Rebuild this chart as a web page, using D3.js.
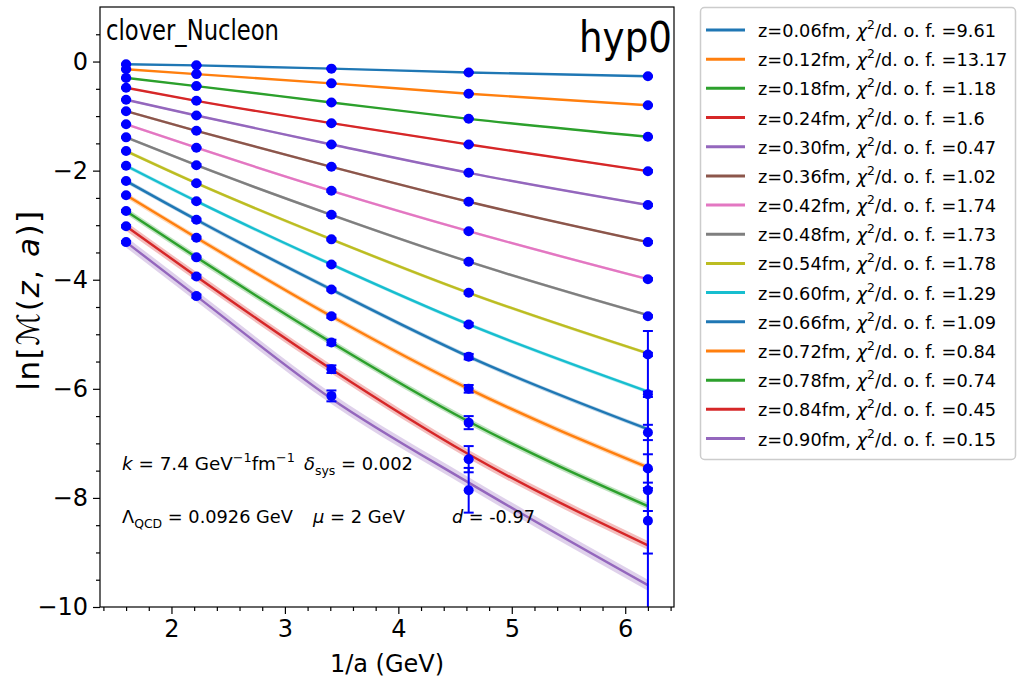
<!DOCTYPE html>
<html>
<head>
<meta charset="utf-8">
<script src="https://cdn.jsdelivr.net/npm/d3@7"></script>
<style>
    body {
        margin: 0;
        background: #fff;
        font-family: 'DejaVu Sans', sans-serif;
    }
    .axis text {
        font-family: 'DejaVu Sans', sans-serif;
        font-size: 24px;
        fill: #000;
    }
    .axis path, .axis line {
        stroke: #000;
        stroke-width: 1.2px;
    }
</style>
</head>
<body>
<svg id="chart" width="1017" height="680"></svg>
<script>
    // lattice spacings, 1/a in GeV
    const invA = [1.60, 2.22, 3.41, 4.62, 6.20];

    const zLabels = ['0.06', '0.12', '0.18', '0.24', '0.30', '0.36', '0.42', '0.48',
                     '0.54', '0.60', '0.66', '0.72', '0.78', '0.84', '0.90'];
    const chi2Labels = ['9.61', '13.17', '1.18', '1.6', '0.47', '1.02', '1.74', '1.73',
                        '1.78', '1.29', '1.09', '0.84', '0.74', '0.45', '0.15'];

    // fitted curve, one row per z, one value per 1/a
    const fitVals = [
        [-0.05, -0.07, -0.13, -0.20, -0.27],
        [-0.14, -0.23, -0.40, -0.59, -0.80],
        [-0.30, -0.45, -0.75, -1.05, -1.38],
        [-0.48, -0.72, -1.13, -1.52, -2.01],
        [-0.70, -0.99, -1.52, -2.04, -2.63],
        [-0.91, -1.27, -1.93, -2.57, -3.31],
        [-1.15, -1.58, -2.37, -3.11, -3.99],
        [-1.39, -1.90, -2.81, -3.67, -4.65],
        [-1.64, -2.23, -3.26, -4.24, -5.35],
        [-1.91, -2.56, -3.72, -4.82, -6.05],
        [-2.19, -2.90, -4.18, -5.41, -6.74],
        [-2.45, -3.23, -4.67, -6.00, -7.44],
        [-2.74, -3.59, -5.15, -6.60, -8.15],
        [-3.02, -3.94, -5.64, -7.20, -8.87],
        [-3.31, -4.30, -6.18, -7.72, -9.60]
    ];
    // half width of the fit band
    const bandHalf = [0.01, 0.01, 0.012, 0.015, 0.018, 0.02, 0.022, 0.025,
                      0.03, 0.035, 0.04, 0.05, 0.06, 0.08, 0.10];

    // lattice data
    const pointVals = [
        [-0.05, -0.07, -0.13, -0.20, -0.27],
        [-0.14, -0.23, -0.40, -0.59, -0.80],
        [-0.30, -0.45, -0.75, -1.05, -1.38],
        [-0.48, -0.72, -1.13, -1.52, -2.01],
        [-0.70, -0.99, -1.52, -2.04, -2.63],
        [-0.91, -1.27, -1.93, -2.57, -3.31],
        [-1.15, -1.58, -2.37, -3.11, -3.99],
        [-1.39, -1.90, -2.81, -3.67, -4.67],
        [-1.64, -2.23, -3.26, -4.24, -5.37],
        [-1.91, -2.56, -3.72, -4.82, -6.10],
        [-2.19, -2.90, -4.18, -5.41, -6.80],
        [-2.45, -3.23, -4.67, -6.00, -7.46],
        [-2.74, -3.59, -5.15, -6.62, -7.86],
        [-3.02, -3.94, -5.64, -7.29, -8.42],
        [-3.31, -4.30, -6.13, -7.86, -10.60]
    ];
    const pointErrs = [
        [0.01, 0.01, 0.01, 0.01, 0.01],
        [0.01, 0.01, 0.01, 0.01, 0.01],
        [0.01, 0.01, 0.01, 0.01, 0.01],
        [0.01, 0.01, 0.01, 0.01, 0.02],
        [0.01, 0.01, 0.01, 0.01, 0.02],
        [0.01, 0.01, 0.01, 0.02, 0.02],
        [0.01, 0.01, 0.02, 0.02, 0.02],
        [0.01, 0.02, 0.02, 0.02, 0.02],
        [0.01, 0.02, 0.02, 0.02, 0.03],
        [0.01, 0.02, 0.02, 0.03, 0.05],
        [0.01, 0.02, 0.02, 0.05, 0.14],
        [0.01, 0.02, 0.03, 0.07, 0.26],
        [0.02, 0.02, 0.05, 0.12, 0.38],
        [0.02, 0.03, 0.07, 0.24, 0.60],
        [0.02, 0.03, 0.10, 0.41, 5.66]
    ];

    const colors = ['#1f77b4', '#ff7f0e', '#2ca02c', '#d62728', '#9467bd', '#8c564b',
                    '#e377c2', '#7f7f7f', '#bcbd22', '#17becf'];

    const plot = {left: 100, right: 674, top: 7, bottom: 607};

    const svg = d3.select('#chart');

    const x = d3.scaleLinear().domain([1.37, 6.43]).range([plot.left, plot.right]);
    const y = d3.scaleLinear().domain([-10, 1]).range([plot.bottom, plot.top]);

    // squeeze a plain text to a given width (the reference fonts are narrower)
    function fitWidth(sel, w) {
        sel.attr('textLength', w).attr('lengthAdjust', 'spacingAndGlyphs');
    }
    // for texts with tspans: pick the font size that gives the wanted width
    function sizeToWidth(sel, w) {
        const fs = +sel.attr('font-size');
        const n = sel.node().getComputedTextLength();
        sel.attr('font-size', (fs * w / n).toFixed(2));
    }

    svg.append('defs').append('clipPath').attr('id', 'clip')
        .append('rect')
        .attr('x', plot.left).attr('y', plot.top)
        .attr('width', plot.right - plot.left)
        .attr('height', plot.bottom - plot.top);

    const data = svg.append('g').attr('clip-path', 'url(#clip)');

    // bands + fit curves
    const area = d3.area()
        .x((d, i) => x(invA[i]))
        .y0(d => y(d.v - d.b))
        .y1(d => y(d.v + d.b))
        .curve(d3.curveMonotoneX);
    const line = d3.line()
        .x((d, i) => x(invA[i]))
        .y(d => y(d))
        .curve(d3.curveMonotoneX);

    fitVals.forEach((row, k) => {
        const c = colors[k % colors.length];
        data.append('path')
            .attr('d', area(row.map(v => ({v: v, b: bandHalf[k]}))))
            .attr('fill', c)
            .attr('fill-opacity', 0.3);
        data.append('path')
            .attr('d', line(row))
            .attr('fill', 'none')
            .attr('stroke', c)
            .attr('stroke-width', 2.4);
    });

    // data points with error bars
    const pts = [];
    pointVals.forEach((row, k) => row.forEach((v, i) => {
        pts.push({x: invA[i], v: v, e: pointErrs[k][i]});
    }));

    const pg = data.append('g').attr('fill', '#0000ff').attr('stroke', '#0000ff');
    pg.selectAll('line.bar').data(pts).join('line')
        .attr('class', 'bar')
        .attr('x1', d => x(d.x)).attr('x2', d => x(d.x))
        .attr('y1', d => y(d.v - d.e)).attr('y2', d => y(d.v + d.e))
        .attr('stroke-width', 2);
    pg.selectAll('line.caplo').data(pts).join('line')
        .attr('class', 'caplo')
        .attr('x1', d => x(d.x) - 5).attr('x2', d => x(d.x) + 5)
        .attr('y1', d => y(d.v - d.e)).attr('y2', d => y(d.v - d.e))
        .attr('stroke-width', 2);
    pg.selectAll('line.caphi').data(pts).join('line')
        .attr('class', 'caphi')
        .attr('x1', d => x(d.x) - 5).attr('x2', d => x(d.x) + 5)
        .attr('y1', d => y(d.v + d.e)).attr('y2', d => y(d.v + d.e))
        .attr('stroke-width', 2);
    pg.selectAll('circle').data(pts).join('circle')
        .attr('cx', d => x(d.x))
        .attr('cy', d => y(d.v))
        .attr('r', 5)
        .attr('stroke', 'none');

    // axes
    const xMajor = [2, 3, 4, 5, 6];
    const xMinor = d3.range(1.4, 6.41, 0.2).filter(v => Math.abs(v - Math.round(v)) > 0.01);
    const yMajor = [-10, -8, -6, -4, -2, 0];
    const yMinor = d3.range(-9.5, 0.6, 0.5).filter(v => v % 2 !== 0);

    svg.append('g').attr('class', 'axis')
        .attr('transform', `translate(0,${plot.bottom})`)
        .call(d3.axisBottom(x).tickValues(xMajor).tickSize(7).tickPadding(6).tickFormat(d3.format('d')))
        .call(g => g.select('.domain').remove());
    svg.append('g').attr('class', 'axis')
        .attr('transform', `translate(0,${plot.bottom})`)
        .call(d3.axisBottom(x).tickValues(xMinor).tickSize(4).tickFormat(''))
        .call(g => g.select('.domain').remove());
    svg.append('g').attr('class', 'axis')
        .attr('transform', `translate(${plot.left},0)`)
        .call(d3.axisLeft(y).tickValues(yMajor).tickSize(7).tickPadding(5).tickFormat(d3.format('d')))
        .call(g => g.select('.domain').remove());
    svg.append('g').attr('class', 'axis')
        .attr('transform', `translate(${plot.left},0)`)
        .call(d3.axisLeft(y).tickValues(yMinor).tickSize(4).tickFormat(''))
        .call(g => g.select('.domain').remove());

    svg.append('rect')
        .attr('x', plot.left).attr('y', plot.top)
        .attr('width', plot.right - plot.left)
        .attr('height', plot.bottom - plot.top)
        .attr('fill', 'none')
        .attr('stroke', '#000')
        .attr('stroke-width', 1.2);

    // axis titles
    svg.append('text')
        .attr('x', (plot.left + plot.right) / 2).attr('y', 672)
        .attr('text-anchor', 'middle')
        .attr('font-size', 24)
        .text('1/a (GeV)');

    const yl = svg.append('text')
        .attr('transform', 'translate(39,300) rotate(-90)')
        .attr('text-anchor', 'middle')
        .attr('font-size', 31)
        .attr('letter-spacing', 1.5);
    yl.append('tspan').text('ln[');
    yl.append('tspan').attr('font-style', 'italic').text('ℳ');
    yl.append('tspan').text('(');
    yl.append('tspan').attr('font-style', 'italic').text('z');
    yl.append('tspan').text(', ');
    yl.append('tspan').attr('font-style', 'italic').text('a');
    yl.append('tspan').text(')]');

    // in-plot titles
    svg.append('text')
        .attr('x', 106).attr('y', 40)
        .attr('font-size', 28)
        .text('clover_Nucleon')
        .call(fitWidth, 173);
    svg.append('text')
        .attr('x', 579).attr('y', 52)
        .attr('font-size', 42)
        .text('hyp0')
        .call(fitWidth, 93);

    // fit parameters
    const ann = svg.append('g');
    const a1 = ann.append('text').attr('x', 122).attr('y', 470).attr('font-size', 20);
    a1.append('tspan').attr('font-style', 'italic').text('k');
    a1.append('tspan').text(' = 7.4 GeV');
    a1.append('tspan').attr('dy', -8).attr('font-size', '0.7em').text('−1');
    a1.append('tspan').attr('dy', 8).text('fm');
    a1.append('tspan').attr('dy', -8).attr('font-size', '0.7em').text('−1');
    a1.call(sizeToWidth, 173);

    const a2 = ann.append('text').attr('x', 304).attr('y', 470).attr('font-size', 20);
    a2.append('tspan').attr('font-style', 'italic').text('δ');
    a2.append('tspan').attr('dy', 5).attr('font-size', '0.7em').text('sys');
    a2.append('tspan').attr('dy', -5).text(' = 0.002');
    a2.call(sizeToWidth, 109);

    const a3 = ann.append('text').attr('x', 122).attr('y', 523).attr('font-size', 20);
    a3.append('tspan').text('Λ');
    a3.append('tspan').attr('dy', 5).attr('font-size', '0.7em').text('QCD');
    a3.append('tspan').attr('dy', -5).text(' = 0.0926 GeV');
    a3.call(sizeToWidth, 171);

    const a4 = ann.append('text').attr('x', 313).attr('y', 523).attr('font-size', 20);
    a4.append('tspan').attr('font-style', 'italic').text('μ');
    a4.append('tspan').text(' = 2 GeV');
    a4.call(sizeToWidth, 92);

    const a5 = ann.append('text').attr('x', 452).attr('y', 523).attr('font-size', 20);
    a5.append('tspan').attr('font-style', 'italic').text('d');
    a5.append('tspan').text(' = -0.97');
    a5.call(sizeToWidth, 83);

    // legend
    const leg = svg.append('g');
    leg.append('rect')
        .attr('x', 700.5).attr('y', 7.5)
        .attr('width', 315).attr('height', 452)
        .attr('rx', 4)
        .attr('fill', '#fff')
        .attr('stroke', '#cccccc')
        .attr('stroke-width', 1.5);

    const rowY = d3.scaleLinear().domain([0, 14]).range([30, 438.5]);
    let legendSize = null;
    zLabels.forEach((z, k) => {
        const yy = rowY(k);
        leg.append('line')
            .attr('x1', 706).attr('x2', 745)
            .attr('y1', yy).attr('y2', yy)
            .attr('stroke', colors[k % colors.length])
            .attr('stroke-width', 3);
        const t = leg.append('text')
            .attr('x', 758).attr('y', yy + 7)
            .attr('font-size', 19);
        t.append('tspan').text(`z=${z}fm, `);
        t.append('tspan').attr('font-style', 'italic').text('χ');
        t.append('tspan').attr('dy', -8).attr('font-size', '0.7em').text('2');
        t.append('tspan').attr('dy', 8).text('/d. o. f. =');
        t.append('tspan').text(chi2Labels[k]);
        // first row sets the size for every row
        if (legendSize === null) {
            t.call(sizeToWidth, 238);
            legendSize = t.attr('font-size');
        }
        t.attr('font-size', legendSize);
    });
</script>
</body>
</html>
